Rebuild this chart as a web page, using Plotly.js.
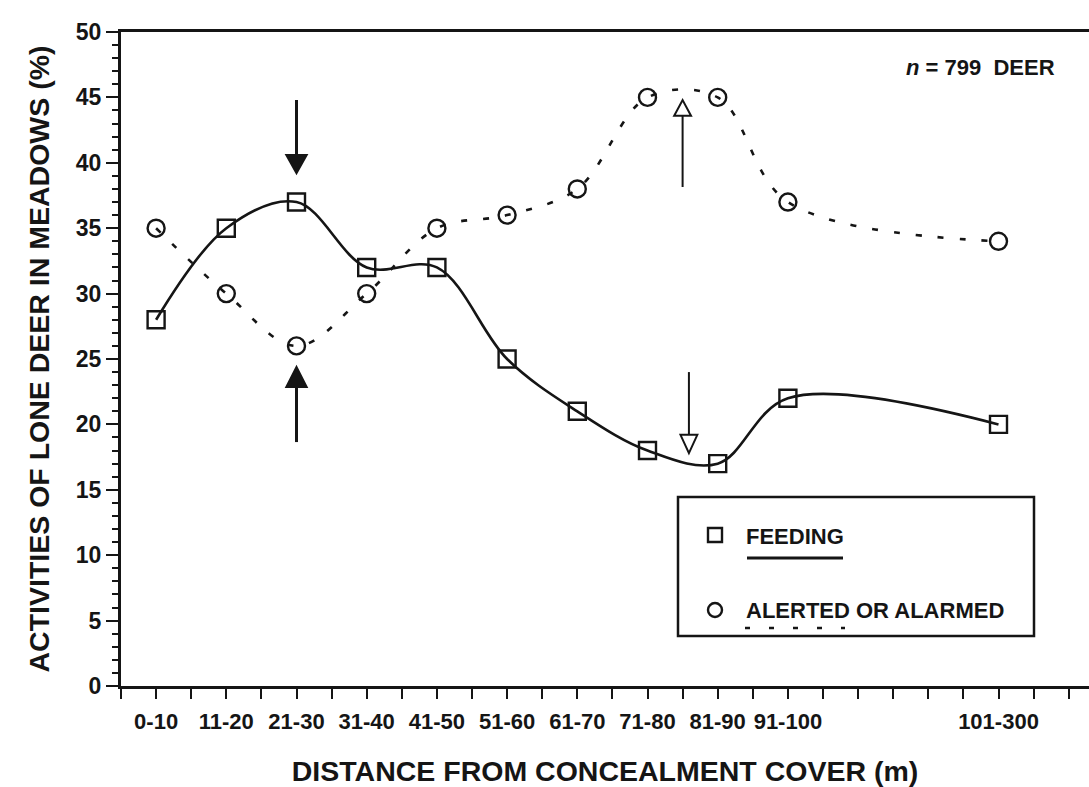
<!DOCTYPE html>
<html>
<head>
<meta charset="utf-8">
<script src="https://cdn.plot.ly/plotly-3.0.1.min.js"></script>
<style>html,body{margin:0;padding:0;background:#fff;}#chart{width:1089px;height:787px;}</style>
</head>
<body>
<div id="chart"></div>
<script>
// ---- data ----
const categories = ['0-10','11-20','21-30','31-40','41-50','51-60','61-70','71-80','81-90','91-100','101-300'];
const positions  = [0, 1, 2, 3, 4, 5, 6, 7, 8, 9, 12];
const feeding    = [28, 35, 37, 32, 32, 25, 21, 18, 17, 22, 20];
const alerted    = [35, 30, 26, 30, 35, 36, 38, 45, 45, 37, 34];
const seriesNames = ['FEEDING', 'ALERTED OR ALARMED'];
const noteText = '<i>n</i> = 799  DEER';

// ---- layout helpers ----
const FONT = '"Liberation Sans", Arial, Helvetica, sans-serif';
const INK = '#151515';
const L = 121, T = 32, W = 968, H = 654;
const px = v => (v - L) / W;
const py = v => (T + H - v) / H;

// x ticks every half step, labels at the category positions
const tickvals = [], ticktext = [];
for (let v = -0.5; v <= 13.25; v += 0.5) {
  tickvals.push(v);
  const i = positions.indexOf(v);
  ticktext.push(i >= 0 ? categories[i] : '');
}

const traces = [
  {
    x: positions, y: feeding, name: seriesNames[0], type: 'scatter', mode: 'lines+markers',
    line: {color: INK, width: 2.6, shape: 'spline', smoothing: 1},
    marker: {symbol: 'square-open', size: 17, color: INK, line: {width: 2.4, color: INK}},
    showlegend: false, hoverinfo: 'x+y'
  },
  {
    x: positions, y: alerted, name: seriesNames[1], type: 'scatter', mode: 'lines+markers',
    line: {color: INK, width: 2.6, shape: 'spline', smoothing: 1, dash: '6px,16px'},
    marker: {symbol: 'circle-open', size: 17, color: INK, line: {width: 2.4, color: INK}},
    showlegend: false, hoverinfo: 'x+y'
  }
];

function arrow(x, yFrom, yBase, yTip, half, open, w) {
  return [
    {type: 'line', xref: 'x', yref: 'y', x0: x, x1: x, y0: yFrom, y1: yBase, line: {color: INK, width: w}},
    {type: 'path', xref: 'x', yref: 'y',
     path: `M ${x - half},${yBase} L ${x + half},${yBase} L ${x},${yTip} Z`,
     fillcolor: open ? '#ffffff' : INK, line: {color: INK, width: 2}}
  ];
}

const shapes = [].concat(
  arrow(2, 44.8, 40.6, 39.2, 0.145, false, 3),
  arrow(2, 18.65, 22.86, 24.4, 0.145, false, 3),
  arrow(7.5, 38.15, 43.6, 44.8, 0.12, true, 2),
  arrow(7.59, 24.0, 19.2, 17.8, 0.12, true, 2),
  [
    // legend box
    {type: 'rect', xref: 'paper', yref: 'paper', x0: px(678), x1: px(1034), y0: py(636), y1: py(497),
     line: {color: INK, width: 2.5}, fillcolor: 'rgba(0,0,0,0)'},
    {type: 'rect', xref: 'paper', yref: 'paper', x0: px(708), x1: px(722), y0: py(542), y1: py(528),
     line: {color: INK, width: 2.4}},
    {type: 'circle', xref: 'paper', yref: 'paper', x0: px(708), x1: px(722), y0: py(617), y1: py(603),
     line: {color: INK, width: 2.4}},
    {type: 'line', xref: 'paper', yref: 'paper', x0: px(747), x1: px(843), y0: py(558), y1: py(558),
     line: {color: INK, width: 3}},
    {type: 'line', xref: 'paper', yref: 'paper', x0: px(745), x1: px(845), y0: py(628), y1: py(628),
     line: {color: INK, width: 2.5, dash: '5px,19px'}}
  ]
);

const annotations = [
  {xref: 'paper', yref: 'paper', x: px(744), y: py(536), xanchor: 'left', yanchor: 'middle',
   text: seriesNames[0], showarrow: false, font: {family: FONT, size: 22, color: INK, weight: 'bold'}},
  {xref: 'paper', yref: 'paper', x: px(744), y: py(610), xanchor: 'left', yanchor: 'middle',
   text: seriesNames[1], showarrow: false, font: {family: FONT, size: 22, color: INK, weight: 'bold'}},
  {xref: 'paper', yref: 'paper', x: px(904), y: py(67), xanchor: 'left', yanchor: 'middle',
   text: noteText, showarrow: false, font: {family: FONT, size: 22, color: INK, weight: 'bold'}}
];

const layout = {
  width: 1089, height: 787,
  margin: {l: L, r: 0, t: T, b: 787 - T - H, pad: 0},
  paper_bgcolor: '#ffffff', plot_bgcolor: '#ffffff',
  font: {family: FONT, color: INK},
  showlegend: false,
  xaxis: {
    range: [-0.5, -0.5 + W / 70.2], tickmode: 'array', tickvals: tickvals, ticktext: ticktext,
    ticks: 'outside', ticklen: 10, tickwidth: 2, tickcolor: INK, ticklabelstandoff: 4,
    showline: true, linewidth: 3, linecolor: INK, mirror: true,
    showgrid: false, zeroline: false,
    tickfont: {family: FONT, size: 22, color: INK, weight: 'bold'},
    title: {text: 'DISTANCE FROM CONCEALMENT COVER (m)', standoff: 29,
            font: {family: FONT, size: 28.5, color: INK, weight: 'bold'}}
  },
  yaxis: {
    range: [0, 50], tickmode: 'linear', tick0: 0, dtick: 5,
    ticks: 'outside', ticklen: 12, tickwidth: 2, tickcolor: INK,
    minor: {tickmode: 'linear', tick0: 0, dtick: 1, ticks: 'outside', ticklen: 6, tickwidth: 2, tickcolor: INK, showgrid: false},
    showline: true, linewidth: 3, linecolor: INK,
    showgrid: false, zeroline: false,
    tickfont: {family: FONT, size: 23, color: INK, weight: 'bold'},
    title: {text: 'ACTIVITIES OF LONE DEER IN MEADOWS (%)', standoff: 18,
            font: {family: FONT, size: 28.5, color: INK, weight: 'bold'}}
  },
  shapes: shapes,
  annotations: annotations
};

Plotly.newPlot('chart', traces, layout, {displayModeBar: false, staticPlot: true});
</script>
</body>
</html>
